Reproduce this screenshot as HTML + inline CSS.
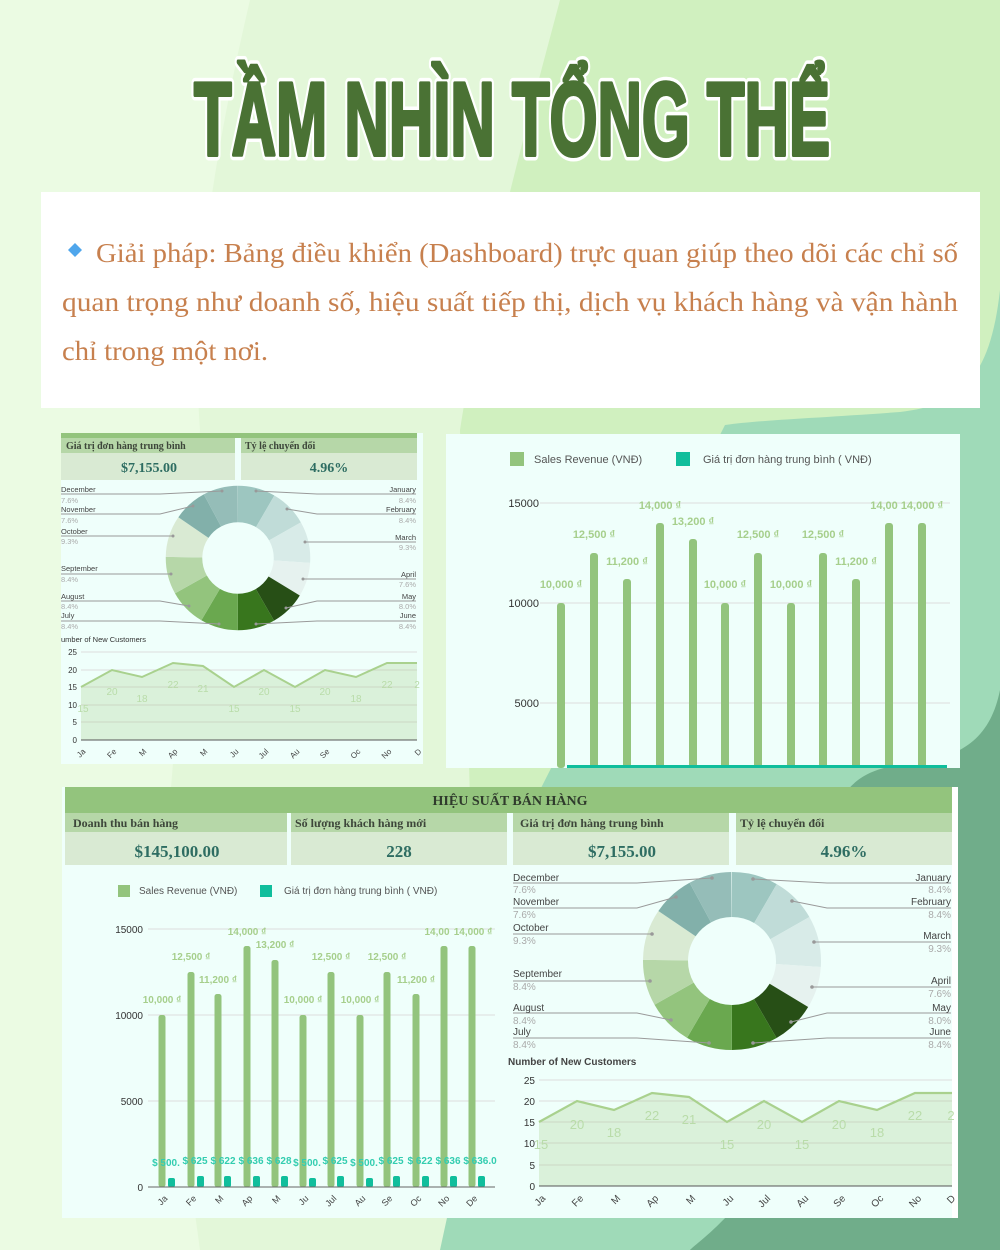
<!DOCTYPE html>
<html><head><meta charset="utf-8"><style>
html,body{margin:0;padding:0;width:1000px;height:1250px;overflow:hidden;background:#e4f7da}
svg{display:block}
.s{font-family:"Liberation Sans",sans-serif}
.sf{font-family:"Liberation Serif",serif}
</style></head><body>
<svg width="1000" height="1250" viewBox="0 0 1000 1250" xmlns="http://www.w3.org/2000/svg">
<!-- background -->
<rect width="1000" height="1250" fill="#e3f7d9"/>
<path d="M0 0 H250 C215 150 190 300 200 430 L170 800 C150 950 180 1100 200 1250 H0 Z" fill="#ebfbe3"/>
<path d="M560 0 H1000 V1250 H520 C500 1100 470 900 470 800 L460 430 C480 300 520 150 560 0 Z" fill="#d0f0bf"/>
<path d="M1000 290 C990 380 960 405 900 412 C820 418 760 420 725 425 L540 790 L440 1250 H1000 Z" fill="#9fdab8"/>
<path d="M1000 690 C990 740 960 760 900 765 C860 770 850 787 840 800 L800 1100 C760 1200 700 1240 690 1250 H1000 Z" fill="#70ad8a"/>
<path d="M958 787 H1000 V1250 H690 L958 1218 Z" fill="#70ad8a"/>

<!-- title -->
<g font-family="'Liberation Sans Narrow','Liberation Sans',sans-serif" font-weight="bold" font-size="104">
<text x="512" y="155" text-anchor="middle" textLength="636" lengthAdjust="spacingAndGlyphs" fill="#ffffff" stroke="#ffffff" stroke-width="11" stroke-linejoin="round">TẦM NHÌN TỔNG THỂ</text>
<text x="512" y="155" text-anchor="middle" textLength="636" lengthAdjust="spacingAndGlyphs" fill="#4a7234" stroke="#4a7234" stroke-width="4" stroke-linejoin="round">TẦM NHÌN TỔNG THỂ</text>
</g>

<!-- text box -->
<rect x="41" y="192" width="939" height="216" fill="#ffffff"/>
<path d="M75 243 L82 250 L75 257 L68 250 Z" fill="#4fa6ec"/>
<g class="sf" font-size="27" fill="#c7804e">
<text x="96" y="262" textLength="862" lengthAdjust="spacingAndGlyphs">Giải pháp: Bảng điều khiển (Dashboard) trực quan giúp theo dõi các chỉ số</text>
<text x="62" y="311" textLength="896" lengthAdjust="spacingAndGlyphs">quan trọng như doanh số, hiệu suất tiếp thị, dịch vụ khách hàng và vận hành</text>
<text x="62" y="360" textLength="206" lengthAdjust="spacingAndGlyphs">chỉ trong một nơi.</text>
</g>

<!-- ===== Panel 1 ===== -->
<rect x="61" y="433" width="362" height="331" fill="#effffb"/>
<rect x="61" y="433" width="356" height="5" fill="#93c47d"/>
<rect x="61" y="438" width="174" height="15" fill="#b6d7a8"/>
<rect x="241" y="438" width="176" height="15" fill="#b6d7a8"/>
<rect x="61" y="453" width="174" height="27" fill="#d9ead3"/>
<rect x="241" y="453" width="176" height="27" fill="#d9ead3"/>
<g class="sf" font-weight="bold">
<text x="66" y="449" font-size="10" fill="#3d463a">Giá trị đơn hàng trung bình</text>
<text x="245" y="449" font-size="10" fill="#3d463a">Tỷ lệ chuyển đổi</text>
<text x="149" y="472" font-size="14" fill="#2e6d62" text-anchor="middle">$7,155.00</text>
<text x="329" y="472" font-size="14" fill="#2e6d62" text-anchor="middle">4.96%</text>
</g>
<!-- donut 1 -->
<g transform="translate(238 558) rotate(-90)" fill="none" stroke-width="36.5">
<circle r="54" pathLength="100" stroke="#9dc6c0" stroke-dasharray="8.4 100" stroke-dashoffset="0"/>
<circle r="54" pathLength="100" stroke="#c0dcd8" stroke-dasharray="8.4 100" stroke-dashoffset="-8.4"/>
<circle r="54" pathLength="100" stroke="#d8ebe8" stroke-dasharray="9.3 100" stroke-dashoffset="-16.8"/>
<circle r="54" pathLength="100" stroke="#e6f2ef" stroke-dasharray="7.6 100" stroke-dashoffset="-26.1"/>
<circle r="54" pathLength="100" stroke="#274f16" stroke-dasharray="8.0 100" stroke-dashoffset="-33.7"/>
<circle r="54" pathLength="100" stroke="#38761d" stroke-dasharray="8.4 100" stroke-dashoffset="-41.7"/>
<circle r="54" pathLength="100" stroke="#6aa84f" stroke-dasharray="8.4 100" stroke-dashoffset="-50.1"/>
<circle r="54" pathLength="100" stroke="#93c47d" stroke-dasharray="8.4 100" stroke-dashoffset="-58.5"/>
<circle r="54" pathLength="100" stroke="#b6d7a8" stroke-dasharray="8.4 100" stroke-dashoffset="-66.9"/>
<circle r="54" pathLength="100" stroke="#d9ead3" stroke-dasharray="9.3 100" stroke-dashoffset="-75.3"/>
<circle r="54" pathLength="100" stroke="#82b0aa" stroke-dasharray="7.6 100" stroke-dashoffset="-84.6"/>
<circle r="54" pathLength="100" stroke="#95bdb8" stroke-dasharray="7.8 100" stroke-dashoffset="-92.2"/>
</g>
<g fill="none" stroke="#9a9a9a" stroke-width="1">
<polyline points="61,494 160,494 222,491"/><polyline points="61,514 160,514 193,506"/>
<polyline points="61,536 160,536 173,536"/><polyline points="61,574 160,574 171,574"/>
<polyline points="61,601 160,601 189,606"/><polyline points="61,621 160,621 219,624"/>
<polyline points="416,494 317,494 256,491"/><polyline points="416,514 317,514 287,509"/>
<polyline points="416,542 317,542 305,542"/><polyline points="416,579 317,579 303,579"/>
<polyline points="416,601 317,601 286,608"/><polyline points="416,621 317,621 256,624"/>
</g>
<g fill="#999"><circle cx="222" cy="491" r="1.5"/><circle cx="193" cy="506" r="1.5"/><circle cx="173" cy="536" r="1.5"/><circle cx="171" cy="574" r="1.5"/><circle cx="189" cy="606" r="1.5"/><circle cx="219" cy="624" r="1.5"/><circle cx="256" cy="491" r="1.5"/><circle cx="287" cy="509" r="1.5"/><circle cx="305" cy="542" r="1.5"/><circle cx="303" cy="579" r="1.5"/><circle cx="286" cy="608" r="1.5"/><circle cx="256" cy="624" r="1.5"/></g>
<g class="s" font-size="7.5">
<g fill="#444"><text x="61" y="492">December</text><text x="61" y="512">November</text><text x="61" y="534">October</text><text x="61" y="571">September</text><text x="61" y="599">August</text><text x="61" y="618">July</text></g>
<g fill="#aaa"><text x="61" y="503">7.6%</text><text x="61" y="523">7.6%</text><text x="61" y="544">9.3%</text><text x="61" y="582">8.4%</text><text x="61" y="609">8.4%</text><text x="61" y="629">8.4%</text></g>
<g fill="#444" text-anchor="end"><text x="416" y="492">January</text><text x="416" y="512">February</text><text x="416" y="540">March</text><text x="416" y="577">April</text><text x="416" y="599">May</text><text x="416" y="618">June</text></g>
<g fill="#aaa" text-anchor="end"><text x="416" y="503">8.4%</text><text x="416" y="523">8.4%</text><text x="416" y="550">9.3%</text><text x="416" y="587">7.6%</text><text x="416" y="609">8.0%</text><text x="416" y="629">8.4%</text></g>
</g>
<!-- area 1 -->
<text x="61" y="642" class="s" font-size="7.5" fill="#333">umber of New Customers</text>
<g stroke="#dcdcdc" stroke-width="1"><line x1="81" y1="652" x2="417" y2="652"/><line x1="81" y1="670" x2="417" y2="670"/><line x1="81" y1="687" x2="417" y2="687"/><line x1="81" y1="705" x2="417" y2="705"/><line x1="81" y1="722" x2="417" y2="722"/></g>
<polygon points="81,740 81,687 112,670 142,677 173,663 203,666 234,687 264,670 295,687 325,670 356,677 387,663 417,663 417,740" fill="#a9d18e" fill-opacity="0.3"/>
<polyline points="81,687 112,670 142,677 173,663 203,666 234,687 264,670 295,687 325,670 356,677 387,663 417,663" fill="none" stroke="#a9d18e" stroke-width="2"/>
<line x1="81" y1="740" x2="417" y2="740" stroke="#555" stroke-width="1"/>
<g class="s" font-size="8" fill="#333" text-anchor="end"><text x="77" y="655">25</text><text x="77" y="673">20</text><text x="77" y="690">15</text><text x="77" y="708">10</text><text x="77" y="725">5</text><text x="77" y="743">0</text></g>
<g class="s" font-size="10" fill="#b9dca9" text-anchor="middle"><text x="83" y="712">15</text><text x="112" y="695">20</text><text x="142" y="702">18</text><text x="173" y="688">22</text><text x="203" y="692">21</text><text x="234" y="712">15</text><text x="264" y="695">20</text><text x="295" y="712">15</text><text x="325" y="695">20</text><text x="356" y="702">18</text><text x="387" y="688">22</text><text x="417" y="688">2</text></g>
<g class="s" font-size="8" fill="#444" text-anchor="end">
<text transform="translate(86 752) rotate(-45)">Ja</text><text transform="translate(117 752) rotate(-45)">Fe</text><text transform="translate(147 752) rotate(-45)">M</text><text transform="translate(178 752) rotate(-45)">Ap</text><text transform="translate(208 752) rotate(-45)">M</text><text transform="translate(239 752) rotate(-45)">Ju</text><text transform="translate(269 752) rotate(-45)">Jul</text><text transform="translate(300 752) rotate(-45)">Au</text><text transform="translate(330 752) rotate(-45)">Se</text><text transform="translate(361 752) rotate(-45)">Oc</text><text transform="translate(392 752) rotate(-45)">No</text><text transform="translate(422 752) rotate(-45)">D</text>
</g>

<!-- ===== Panel 2 ===== -->
<rect x="446" y="434" width="514" height="334" fill="#effffb"/>
<rect x="510" y="452" width="14" height="14" fill="#93c47d"/>
<rect x="676" y="452" width="14" height="14" fill="#10be9c"/>
<g class="s" font-size="11" fill="#555"><text x="534" y="463">Sales Revenue (VNĐ)</text><text x="703" y="463">Giá trị đơn hàng trung bình ( VNĐ)</text></g>
<g stroke="#dedede"><line x1="540" y1="503" x2="950" y2="503"/><line x1="540" y1="603" x2="950" y2="603"/><line x1="540" y1="703" x2="950" y2="703"/></g>
<g class="s" font-size="11" fill="#333" text-anchor="end"><text x="539" y="507">15000</text><text x="539" y="607">10000</text><text x="539" y="707">5000</text></g>
<g fill="#93c47d">
<rect x="557" y="603" width="8" height="165" rx="3"/><rect x="590" y="553" width="8" height="215" rx="3"/><rect x="623" y="579" width="8" height="189" rx="3"/><rect x="656" y="523" width="8" height="245" rx="3"/><rect x="689" y="539" width="8" height="229" rx="3"/><rect x="721" y="603" width="8" height="165" rx="3"/><rect x="754" y="553" width="8" height="215" rx="3"/><rect x="787" y="603" width="8" height="165" rx="3"/><rect x="819" y="553" width="8" height="215" rx="3"/><rect x="852" y="579" width="8" height="189" rx="3"/><rect x="885" y="523" width="8" height="245" rx="3"/><rect x="918" y="523" width="8" height="245" rx="3"/>
</g>
<g fill="#10be9c"><rect x="567" y="765" width="380" height="3"/></g>
<g class="s" font-size="11" font-weight="bold" fill="#a6cf8c" text-anchor="middle">
<text x="561" y="588">10,000 ₫</text><text x="594" y="538">12,500 ₫</text><text x="627" y="565">11,200 ₫</text><text x="660" y="509">14,000 ₫</text><text x="693" y="525">13,200 ₫</text><text x="725" y="588">10,000 ₫</text><text x="758" y="538">12,500 ₫</text><text x="791" y="588">10,000 ₫</text><text x="823" y="538">12,500 ₫</text><text x="856" y="565">11,200 ₫</text><text x="884" y="509">14,00</text><text x="922" y="509">14,000 ₫</text>
</g>

<!-- ===== Panel 3 ===== -->
<rect x="62" y="787" width="896" height="431" fill="#effffb"/>
<rect x="952" y="787" width="6" height="431" fill="#ffffff"/>
<rect x="65" y="787" width="887" height="26" fill="#93c47d"/>
<text x="510" y="805" class="sf" font-weight="bold" font-size="14" fill="#2f3b2c" text-anchor="middle">HIỆU SUẤT BÁN HÀNG</text>
<g fill="#b6d7a8"><rect x="65" y="813" width="222" height="19"/><rect x="291" y="813" width="216" height="19"/><rect x="513" y="813" width="216" height="19"/><rect x="736" y="813" width="216" height="19"/></g>
<g fill="#d9ead3"><rect x="65" y="832" width="222" height="33"/><rect x="291" y="832" width="216" height="33"/><rect x="513" y="832" width="216" height="33"/><rect x="736" y="832" width="216" height="33"/></g>
<g class="sf" font-weight="bold">
<g font-size="12" fill="#3d463a"><text x="73" y="827">Doanh thu bán hàng</text><text x="295" y="827">Số lượng khách hàng mới</text><text x="520" y="827">Giá trị đơn hàng trung bình</text><text x="740" y="827">Tỷ lệ chuyển đổi</text></g>
<g font-size="17" fill="#2e6d62" text-anchor="middle"><text x="177" y="857">$145,100.00</text><text x="399" y="857">228</text><text x="622" y="857">$7,155.00</text><text x="844" y="857">4.96%</text></g>
</g>
<!-- bar chart 2 -->
<rect x="118" y="885" width="12" height="12" fill="#93c47d"/>
<rect x="260" y="885" width="12" height="12" fill="#10be9c"/>
<g class="s" font-size="10" fill="#555"><text x="139" y="894">Sales Revenue (VNĐ)</text><text x="284" y="894">Giá trị đơn hàng trung bình ( VNĐ)</text></g>
<g stroke="#dedede"><line x1="148" y1="929" x2="495" y2="929"/><line x1="148" y1="1015" x2="495" y2="1015"/><line x1="148" y1="1101" x2="495" y2="1101"/></g>
<g class="s" font-size="10" fill="#333" text-anchor="end"><text x="143" y="933">15000</text><text x="143" y="1019">10000</text><text x="143" y="1105">5000</text><text x="143" y="1191">0</text></g>
<g fill="#93c47d">
<rect x="158.5" y="1015" width="7" height="172" rx="2.5"/><rect x="187.5" y="972" width="7" height="215" rx="2.5"/><rect x="214.5" y="994" width="7" height="193" rx="2.5"/><rect x="243.5" y="946" width="7" height="241" rx="2.5"/><rect x="271.5" y="960" width="7" height="227" rx="2.5"/><rect x="299.5" y="1015" width="7" height="172" rx="2.5"/><rect x="327.5" y="972" width="7" height="215" rx="2.5"/><rect x="356.5" y="1015" width="7" height="172" rx="2.5"/><rect x="383.5" y="972" width="7" height="215" rx="2.5"/><rect x="412.5" y="994" width="7" height="193" rx="2.5"/><rect x="440.5" y="946" width="7" height="241" rx="2.5"/><rect x="468.5" y="946" width="7" height="241" rx="2.5"/>
</g>
<g fill="#10be9c">
<rect x="168" y="1178" width="7" height="9" rx="2"/><rect x="197" y="1176" width="7" height="11" rx="2"/><rect x="224" y="1176" width="7" height="11" rx="2"/><rect x="253" y="1176" width="7" height="11" rx="2"/><rect x="281" y="1176" width="7" height="11" rx="2"/><rect x="309" y="1178" width="7" height="9" rx="2"/><rect x="337" y="1176" width="7" height="11" rx="2"/><rect x="366" y="1178" width="7" height="9" rx="2"/><rect x="393" y="1176" width="7" height="11" rx="2"/><rect x="422" y="1176" width="7" height="11" rx="2"/><rect x="450" y="1176" width="7" height="11" rx="2"/><rect x="478" y="1176" width="7" height="11" rx="2"/>
</g>
<line x1="148" y1="1187" x2="495" y2="1187" stroke="#666"/>
<g class="s" font-size="10" font-weight="bold" fill="#a6cf8c" text-anchor="middle">
<text x="162" y="1003">10,000 ₫</text><text x="191" y="960">12,500 ₫</text><text x="218" y="983">11,200 ₫</text><text x="247" y="935">14,000 ₫</text><text x="275" y="948">13,200 ₫</text><text x="303" y="1003">10,000 ₫</text><text x="331" y="960">12,500 ₫</text><text x="360" y="1003">10,000 ₫</text><text x="387" y="960">12,500 ₫</text><text x="416" y="983">11,200 ₫</text><text x="437" y="935">14,00</text><text x="473" y="935">14,000 ₫</text>
</g>
<g class="s" font-size="10" font-weight="bold" fill="#33cdb0" text-anchor="middle">
<text x="166" y="1166">$ 500.</text><text x="195" y="1164">$ 625</text><text x="223" y="1164">$ 622</text><text x="251" y="1164">$ 636</text><text x="279" y="1164">$ 628</text><text x="307" y="1166">$ 500.</text><text x="335" y="1164">$ 625</text><text x="364" y="1166">$ 500.</text><text x="391" y="1164">$ 625</text><text x="420" y="1164">$ 622</text><text x="448" y="1164">$ 636</text><text x="480" y="1164">$ 636.0</text>
</g>
<g class="s" font-size="9" fill="#444" text-anchor="end">
<text transform="translate(168 1199) rotate(-45)">Ja</text><text transform="translate(197 1199) rotate(-45)">Fe</text><text transform="translate(224 1199) rotate(-45)">M</text><text transform="translate(253 1199) rotate(-45)">Ap</text><text transform="translate(281 1199) rotate(-45)">M</text><text transform="translate(309 1199) rotate(-45)">Ju</text><text transform="translate(337 1199) rotate(-45)">Jul</text><text transform="translate(366 1199) rotate(-45)">Au</text><text transform="translate(393 1199) rotate(-45)">Se</text><text transform="translate(422 1199) rotate(-45)">Oc</text><text transform="translate(450 1199) rotate(-45)">No</text><text transform="translate(478 1199) rotate(-45)">De</text>
</g>
<!-- donut 2 -->
<g transform="translate(732 961) rotate(-90)" fill="none" stroke-width="45">
<circle r="66.5" pathLength="100" stroke="#9dc6c0" stroke-dasharray="8.4 100" stroke-dashoffset="0"/>
<circle r="66.5" pathLength="100" stroke="#c0dcd8" stroke-dasharray="8.4 100" stroke-dashoffset="-8.4"/>
<circle r="66.5" pathLength="100" stroke="#d8ebe8" stroke-dasharray="9.3 100" stroke-dashoffset="-16.8"/>
<circle r="66.5" pathLength="100" stroke="#e6f2ef" stroke-dasharray="7.6 100" stroke-dashoffset="-26.1"/>
<circle r="66.5" pathLength="100" stroke="#274f16" stroke-dasharray="8.0 100" stroke-dashoffset="-33.7"/>
<circle r="66.5" pathLength="100" stroke="#38761d" stroke-dasharray="8.4 100" stroke-dashoffset="-41.7"/>
<circle r="66.5" pathLength="100" stroke="#6aa84f" stroke-dasharray="8.4 100" stroke-dashoffset="-50.1"/>
<circle r="66.5" pathLength="100" stroke="#93c47d" stroke-dasharray="8.4 100" stroke-dashoffset="-58.5"/>
<circle r="66.5" pathLength="100" stroke="#b6d7a8" stroke-dasharray="8.4 100" stroke-dashoffset="-66.9"/>
<circle r="66.5" pathLength="100" stroke="#d9ead3" stroke-dasharray="9.3 100" stroke-dashoffset="-75.3"/>
<circle r="66.5" pathLength="100" stroke="#82b0aa" stroke-dasharray="7.6 100" stroke-dashoffset="-84.6"/>
<circle r="66.5" pathLength="100" stroke="#95bdb8" stroke-dasharray="7.8 100" stroke-dashoffset="-92.2"/>
</g>
<g fill="none" stroke="#9a9a9a" stroke-width="1">
<polyline points="513,883 637,883 712,878"/><polyline points="513,908 637,908 676,897"/>
<polyline points="513,934 637,934 652,934"/><polyline points="513,981 637,981 650,981"/>
<polyline points="513,1013 637,1013 671,1020"/><polyline points="513,1038 637,1038 709,1043"/>
<polyline points="951,883 827,883 753,879"/><polyline points="951,908 827,908 792,901"/>
<polyline points="951,942 827,942 814,942"/><polyline points="951,987 827,987 812,987"/>
<polyline points="951,1013 827,1013 791,1022"/><polyline points="951,1038 827,1038 753,1043"/>
</g>
<g fill="#999"><circle cx="712" cy="878" r="1.8"/><circle cx="676" cy="897" r="1.8"/><circle cx="652" cy="934" r="1.8"/><circle cx="650" cy="981" r="1.8"/><circle cx="671" cy="1020" r="1.8"/><circle cx="709" cy="1043" r="1.8"/><circle cx="753" cy="879" r="1.8"/><circle cx="792" cy="901" r="1.8"/><circle cx="814" cy="942" r="1.8"/><circle cx="812" cy="987" r="1.8"/><circle cx="791" cy="1022" r="1.8"/><circle cx="753" cy="1043" r="1.8"/></g>
<g class="s" font-size="10">
<g fill="#444"><text x="513" y="881">December</text><text x="513" y="905">November</text><text x="513" y="931">October</text><text x="513" y="977">September</text><text x="513" y="1011">August</text><text x="513" y="1035">July</text></g>
<g fill="#aaa"><text x="513" y="893">7.6%</text><text x="513" y="918">7.6%</text><text x="513" y="944">9.3%</text><text x="513" y="990">8.4%</text><text x="513" y="1024">8.4%</text><text x="513" y="1048">8.4%</text></g>
<g fill="#444" text-anchor="end"><text x="951" y="881">January</text><text x="951" y="905">February</text><text x="951" y="939">March</text><text x="951" y="984">April</text><text x="951" y="1011">May</text><text x="951" y="1035">June</text></g>
<g fill="#aaa" text-anchor="end"><text x="951" y="893">8.4%</text><text x="951" y="918">8.4%</text><text x="951" y="952">9.3%</text><text x="951" y="997">7.6%</text><text x="951" y="1024">8.0%</text><text x="951" y="1048">8.4%</text></g>
</g>
<!-- area 2 -->
<text x="508" y="1065" class="s" font-size="10" font-weight="bold" fill="#444">Number of New Customers</text>
<g stroke="#dcdcdc"><line x1="539" y1="1080" x2="952" y2="1080"/><line x1="539" y1="1101" x2="952" y2="1101"/><line x1="539" y1="1122" x2="952" y2="1122"/><line x1="539" y1="1143" x2="952" y2="1143"/><line x1="539" y1="1165" x2="952" y2="1165"/></g>
<polygon points="539,1186 539,1122 577,1101 614,1110 652,1093 689,1097 727,1122 764,1101 802,1122 839,1101 877,1110 915,1093 952,1093 952,1186" fill="#a9d18e" fill-opacity="0.3"/>
<polyline points="539,1122 577,1101 614,1110 652,1093 689,1097 727,1122 764,1101 802,1122 839,1101 877,1110 915,1093 952,1093" fill="none" stroke="#a9d18e" stroke-width="2.2"/>
<line x1="539" y1="1186" x2="952" y2="1186" stroke="#555"/>
<g class="s" font-size="10" fill="#333" text-anchor="end"><text x="535" y="1084">25</text><text x="535" y="1105">20</text><text x="535" y="1126">15</text><text x="535" y="1147">10</text><text x="535" y="1169">5</text><text x="535" y="1190">0</text></g>
<g class="s" font-size="13" fill="#b9dca9" text-anchor="middle"><text x="541" y="1149">15</text><text x="577" y="1129">20</text><text x="614" y="1137">18</text><text x="652" y="1120">22</text><text x="689" y="1124">21</text><text x="727" y="1149">15</text><text x="764" y="1129">20</text><text x="802" y="1149">15</text><text x="839" y="1129">20</text><text x="877" y="1137">18</text><text x="915" y="1120">22</text><text x="951" y="1120">2</text></g>
<g class="s" font-size="10" fill="#444" text-anchor="end">
<text transform="translate(546 1199) rotate(-45)">Ja</text><text transform="translate(584 1199) rotate(-45)">Fe</text><text transform="translate(621 1199) rotate(-45)">M</text><text transform="translate(659 1199) rotate(-45)">Ap</text><text transform="translate(696 1199) rotate(-45)">M</text><text transform="translate(734 1199) rotate(-45)">Ju</text><text transform="translate(771 1199) rotate(-45)">Jul</text><text transform="translate(809 1199) rotate(-45)">Au</text><text transform="translate(846 1199) rotate(-45)">Se</text><text transform="translate(884 1199) rotate(-45)">Oc</text><text transform="translate(922 1199) rotate(-45)">No</text><text transform="translate(956 1199) rotate(-45)">D</text>
</g>
</svg>
</body></html>
